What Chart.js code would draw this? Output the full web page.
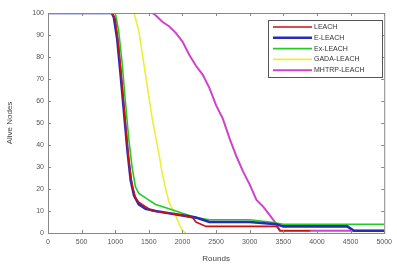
<!DOCTYPE html>
<html>
<head>
<meta charset="utf-8">
<script src="https://cdn.jsdelivr.net/npm/chart.js@4.4.0/dist/chart.umd.min.js"></script>
<style>
  html, body { margin: 0; padding: 0; background: #fff; }
  #wrap { width: 397px; height: 264px; }
</style>
</head>
<body>
<div id="wrap"><canvas id="chart" width="397" height="264"></canvas></div>
<script>
// Series (rounds, alive nodes)
const seriesNames = ['LEACH', 'E-LEACH', 'Ex-LEACH', 'GADA-LEACH', 'MHTRP-LEACH'];
const seriesColors = ['#cc1010', '#2a2ab8', '#22cc22', '#eeee3a', '#cc44cc'];
const seriesWidths = [1.6, 2.6, 1.6, 1.6, 2];

const leach = [[0,100],[950,100],[1000,97],[1050,85],[1100,68],[1150,50],[1200,33],[1250,22],[1300,16],[1350,14],[1450,12],[1550,10],[1800,9],[2000,8],[2150,7],[2200,5],[2350,3],[3400,3],[3450,1],[3900,1]];
const eLeach = [[0,100],[950,100],[980,98],[1030,88],[1080,72],[1130,55],[1180,38],[1230,24],[1280,17],[1350,13],[1450,11],[1600,10],[1800,9],[2000,8],[2200,7],[2400,5],[3000,5],[3400,4],[3500,3],[4000,3],[4450,3],[4550,1],[5000,1]];
const exLeach = [[0,100],[1000,100],[1050,92],[1100,78],[1150,60],[1200,43],[1250,30],[1300,21],[1350,18],[1450,16],[1600,13],[1800,11],[2000,9],[2200,7],[2400,6],[3000,6],[3300,5],[3500,4],[5000,4]];
const gadaLeach = [[0,100],[1280,100],[1350,92],[1400,82],[1450,72],[1500,62],[1550,52],[1600,44],[1650,36],[1700,27],[1750,20],[1800,14],[1850,11],[1900,8],[1950,4],[2000,1],[2050,0]];
const mhtrpLeach = [[0,100],[1550,100],[1600,99],[1700,96],[1800,94],[1900,91],[2000,87],[2100,81],[2200,76],[2300,72],[2400,66],[2500,58],[2600,52],[2700,43],[2800,35],[2900,28],[3000,22],[3100,15],[3200,12],[3300,8],[3400,4],[3450,1],[5000,1]];

const allSeries = [leach, eLeach, exLeach, gadaLeach, mhtrpLeach];

const xTicks = [0, 500, 1000, 1500, 2000, 2500, 3000, 3500, 4000, 4500, 5000];
const yTicks = [0, 10, 20, 30, 40, 50, 60, 70, 80, 90, 100];

const tickFont = { family: 'Liberation Sans, Arial, sans-serif', size: 7 };

// box around plot, inward ticks and the legend (MATLAB look)
const boxPlugin = {
  id: 'box',
  afterDatasetsDraw(chart) {
    const { ctx, chartArea: a, scales } = chart;
    ctx.save();
    ctx.strokeStyle = '#888';
    ctx.lineWidth = 1;
    ctx.strokeRect(a.left + 0.5, a.top + 0.5, a.right - a.left, a.bottom - a.top);
    ctx.beginPath();
    xTicks.forEach(v => {
      const px = Math.round(scales.x.getPixelForValue(v)) + 0.5;
      ctx.moveTo(px, a.bottom); ctx.lineTo(px, a.bottom - 3);
      ctx.moveTo(px, a.top); ctx.lineTo(px, a.top + 3);
    });
    yTicks.forEach(v => {
      const py = Math.round(scales.y.getPixelForValue(v)) + 0.5;
      ctx.moveTo(a.left, py); ctx.lineTo(a.left + 3, py);
      ctx.moveTo(a.right, py); ctx.lineTo(a.right - 3, py);
    });
    ctx.stroke();

    // legend
    const lx = 268, ly = 20, lw = 114, lh = 57;
    ctx.fillStyle = '#fff';
    ctx.fillRect(lx, ly, lw, lh);
    ctx.strokeStyle = '#555';
    ctx.strokeRect(lx + 0.5, ly + 0.5, lw, lh);
    ctx.font = '7px Liberation Sans, Arial, sans-serif';
    ctx.textBaseline = 'middle';
    seriesNames.forEach((name, i) => {
      const y = ly + 7 + i * 10.8;
      ctx.strokeStyle = seriesColors[i];
      ctx.lineWidth = seriesWidths[i];
      ctx.beginPath();
      ctx.moveTo(lx + 5, y); ctx.lineTo(lx + 44, y);
      ctx.stroke();
      ctx.fillStyle = '#333';
      ctx.fillText(name, lx + 46, y);
    });
    ctx.restore();
  }
};

new Chart(document.getElementById('chart'), {
  type: 'line',
  data: {
    datasets: allSeries.map((s, i) => ({
      label: seriesNames[i],
      data: s.map(p => ({ x: p[0], y: p[1] })),
      borderColor: seriesColors[i],
      borderWidth: seriesWidths[i],
      pointRadius: 0,
      fill: false,
      tension: 0
    }))
  },
  options: {
    responsive: false,
    animation: false,
    layout: { padding: { top: 13, right: 6, left: 0, bottom: 0 } },
    plugins: { legend: { display: false }, tooltip: { enabled: false } },
    scales: {
      x: {
        type: 'linear', min: 0, max: 5000,
        afterBuildTicks: s => { s.ticks = xTicks.map(v => ({ value: v })); },
        grid: { display: false, drawTicks: false },
        border: { display: false },
        ticks: { font: tickFont, color: '#555', padding: 5, maxRotation: 0, autoSkip: false, callback: v => String(v) },
        title: { display: true, text: 'Rounds', font: { family: 'Liberation Sans, Arial, sans-serif', size: 8 }, color: '#444', padding: { top: 2, bottom: 0 } },
        afterFit: s => { s.height = 31; }
      },
      y: {
        min: 0, max: 100,
        afterBuildTicks: s => { s.ticks = yTicks.map(v => ({ value: v })); },
        grid: { display: false, drawTicks: false },
        border: { display: false },
        ticks: { font: tickFont, color: '#555', padding: 4, autoSkip: false, callback: v => String(v) },
        title: { display: true, text: 'Alive Nodes', font: { family: 'Liberation Sans, Arial, sans-serif', size: 8 }, color: '#444', padding: { top: 5, bottom: 0 } },
        afterFit: s => { s.width = 48; }
      }
    }
  },
  plugins: [boxPlugin]
});
</script>
</body>
</html>
